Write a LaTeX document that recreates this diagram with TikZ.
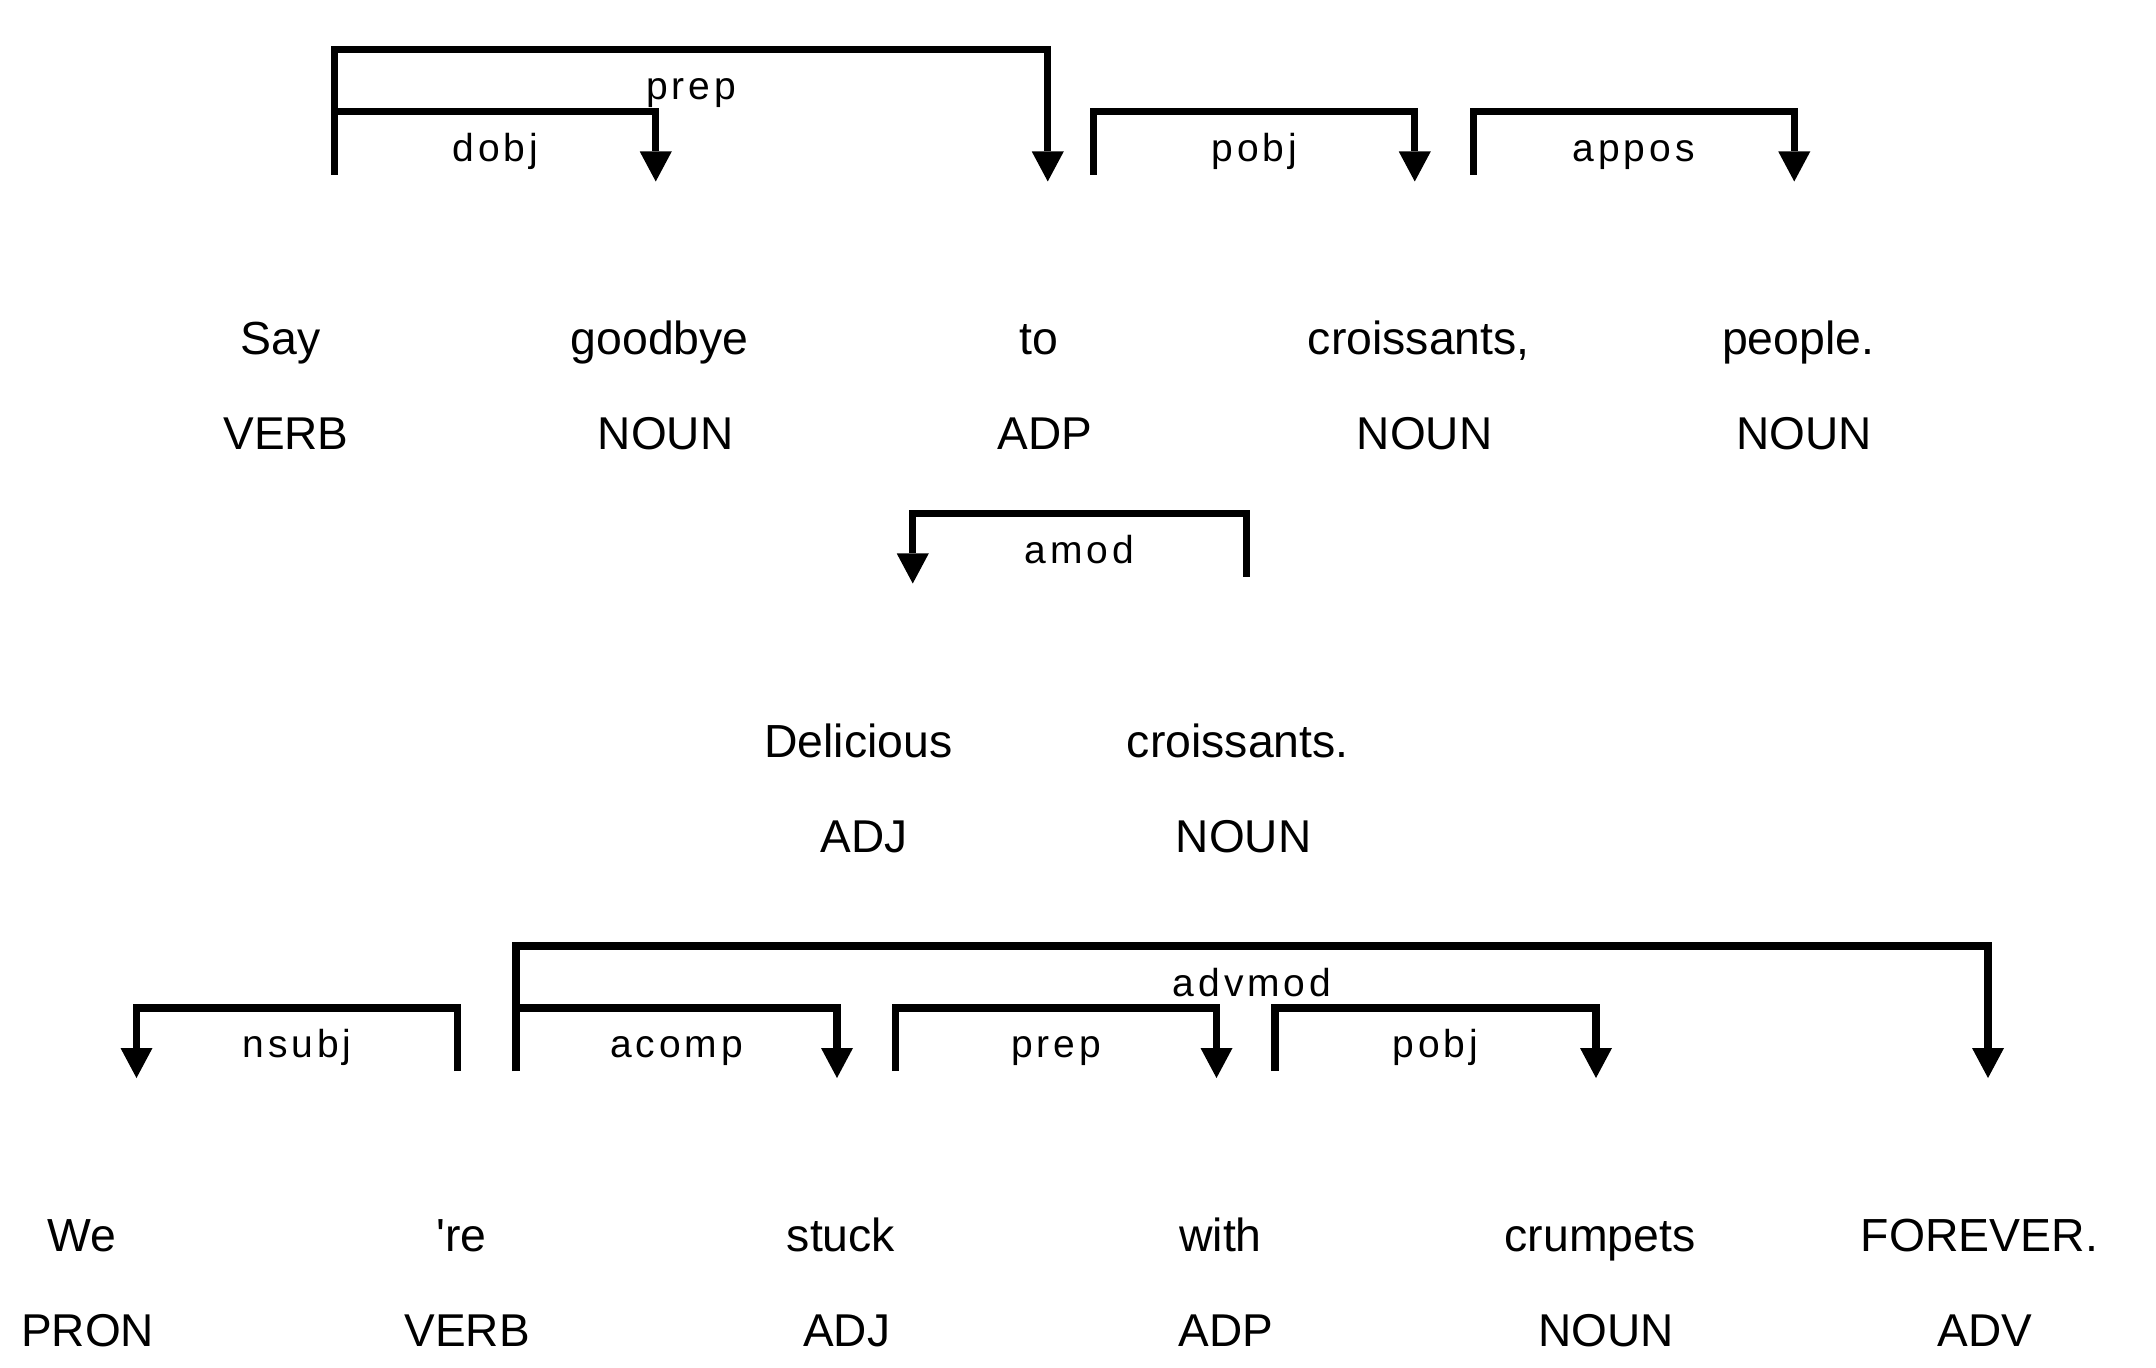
\documentclass[tikz,border=0pt]{standalone}
\usepackage{fontspec}
\setmainfont{Liberation Sans}
\newfontfamily\plainfont{Liberation Sans}
\newfontfamily\lblfont{Liberation Sans}[LetterSpace=10]
\usetikzlibrary{arrows.meta,calc}
\begin{document}
\begin{tikzpicture}[x=0.5pt,y=-0.5pt,
  word/.style={anchor=base,inner sep=0pt,font=\plainfont\fontsize{23.2}{23.2}\selectfont},
  postag/.style={anchor=base,inner sep=0pt,font=\plainfont\fontsize{23}{23}\selectfont},
  lbl/.style={anchor=base,inner sep=0pt,yshift=-25pt,font=\lblfont\fontsize{19.5}{19.5}\selectfont},
  deparc/.style={line width=3.65pt,line join=miter,-{Triangle[length=15pt,width=16pt,line width=0pt]}}]
\useasboundingbox (0,0) rectangle (2156,1368);

% ---------- Row 1 ----------
\foreach \i/\x in {1/288.75,2/668.25,3/1047.75,4/1427.25,5/1806.75}
  \coordinate (a\i) at (\x,0);
\node[word] (w11) at ($(a1)+(-8.5,355)$) {Say};
\node[word] (w12) at ($(a2)+(-8.5,355)$) {goodbye};
\node[word] (w13) at ($(a3)+(-8.5,355)$) {to};
\node[word] (w14) at ($(a4)+(-8.5,355)$) {croissants,};
\node[word] (w15) at ($(a5)+(-8.5,355)$) {people.};
\node[postag] (t11) at ($(a1)+(-2.75,450)$) {VERB};
\node[postag] (t12) at ($(a2)+(-2.75,450)$) {NOUN};
\node[postag] (t13) at ($(a3)+(-2.75,450)$) {ADP};
\node[postag] (t14) at ($(a4)+(-2.75,450)$) {NOUN};
\node[postag] (t15) at ($(a5)+(-2.75,450)$) {NOUN};

\draw[deparc] ($(a1)+(46,174.6)$) |- node[lbl,pos=0.75]{prep} ($(a3)+(0,49.5)$) -- ($(a3)+(0,181.5)$);
\draw[deparc] ($(a1)+(46,174.6)$) |- node[lbl,pos=0.75]{dobj} ($(a2)+(-12.5,111.4)$) -- ($(a2)+(-12.5,181.5)$);
\draw[deparc] ($(a3)+(46,174.6)$) |- node[lbl,pos=0.75]{pobj} ($(a4)+(-12.5,111.4)$) -- ($(a4)+(-12.5,181.5)$);
\draw[deparc] ($(a4)+(46,174.6)$) |- node[lbl,pos=0.75]{appos} ($(a5)+(-12.5,111.4)$) -- ($(a5)+(-12.5,181.5)$);

% ---------- Row 2 ----------
\coordinate (b1) at (866.75,402);
\coordinate (b2) at (1246.25,402);
\node[word] (w21) at ($(b1)+(-8.5,355)$) {Delicious};
\node[word] (w22) at ($(b2)+(-8.5,355)$) {croissants.};
\node[postag] (t21) at ($(b1)+(-2.75,450)$) {ADJ};
\node[postag] (t22) at ($(b2)+(-2.75,450)$) {NOUN};

\draw[deparc] ($(b2)+(0,174.6)$) |- node[lbl,pos=0.75]{amod} ($(b1)+(46,111.4)$) -- ($(b1)+(46,181.5)$);

% ---------- Row 3 ----------
\foreach \i/\x in {1/90.5,2/470,3/849.5,4/1229,5/1608.5,6/1988}
  \coordinate (c\i) at (\x,896.5);
\node[word] (w31) at ($(c1)+(-8.5,355)$) {We};
\node[word] (w32) at ($(c2)+(-8.5,355)$) {'re};
\node[word] (w33) at ($(c3)+(-8.5,355)$) {stuck};
\node[word] (w34) at ($(c4)+(-8.5,355)$) {with};
\node[word] (w35) at ($(c5)+(-8.5,355)$) {crumpets};
\node[word] (w36) at ($(c6)+(-8.5,355)$) {FOREVER.};
\node[postag] (t31) at ($(c1)+(-2.75,450)$) {PRON};
\node[postag] (t32) at ($(c2)+(-2.75,450)$) {VERB};
\node[postag] (t33) at ($(c3)+(-2.75,450)$) {ADJ};
\node[postag] (t34) at ($(c4)+(-2.75,450)$) {ADP};
\node[postag] (t35) at ($(c5)+(-2.75,450)$) {NOUN};
\node[postag] (t36) at ($(c6)+(-2.75,450)$) {ADV};

\draw[deparc] ($(c2)+(-12.5,174.6)$) |- node[lbl,pos=0.75]{nsubj} ($(c1)+(46,111.4)$) -- ($(c1)+(46,181.5)$);
\draw[deparc] ($(c2)+(46,174.6)$) |- node[lbl,pos=0.75]{advmod} ($(c6)+(0,49.5)$) -- ($(c6)+(0,181.5)$);
\draw[deparc] ($(c2)+(46,174.6)$) |- node[lbl,pos=0.75]{acomp} ($(c3)+(-12.5,111.4)$) -- ($(c3)+(-12.5,181.5)$);
\draw[deparc] ($(c3)+(46,174.6)$) |- node[lbl,pos=0.75]{prep} ($(c4)+(-12.5,111.4)$) -- ($(c4)+(-12.5,181.5)$);
\draw[deparc] ($(c4)+(46,174.6)$) |- node[lbl,pos=0.75]{pobj} ($(c5)+(-12.5,111.4)$) -- ($(c5)+(-12.5,181.5)$);
\end{tikzpicture}
\end{document}
